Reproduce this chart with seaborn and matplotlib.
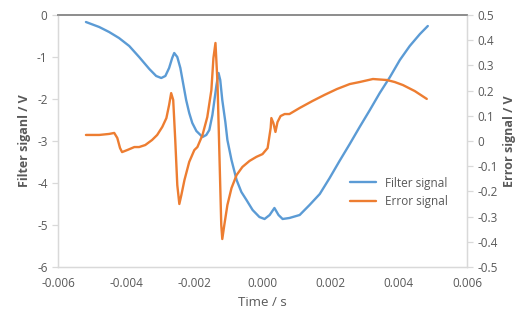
import numpy as np
import pandas as pd
import seaborn as sns
import matplotlib
matplotlib.use("Agg")
import matplotlib.pyplot as plt

# ---- data ----
filter_t = [-0.00518, -0.00479, -0.00450, -0.00421, -0.00391, -0.00362, -0.00332, -0.00312,
            -0.00297, -0.00285, -0.00274, -0.00265, -0.00259, -0.00250, -0.00241, -0.00232,
            -0.00224, -0.00215, -0.00206, -0.00194, -0.00176, -0.00165, -0.00156, -0.00147,
            -0.00141, -0.00135, -0.00129, -0.00124, -0.00118, -0.00109, -0.00103, -0.00091,
            -0.00076, -0.00062, -0.00047, -0.00029, -0.00009, 0.00006, 0.00021, 0.00035,
            0.00047, 0.00059, 0.00079, 0.00109, 0.00138, 0.00168, 0.00197, 0.00226,
            0.00256, 0.00285, 0.00315, 0.00344, 0.00374, 0.00403, 0.00432, 0.00462, 0.00485]
filter_v = [-0.167, -0.286, -0.405, -0.548, -0.738, -1.000, -1.286, -1.452,
            -1.500, -1.452, -1.262, -1.024, -0.905, -1.000, -1.262, -1.667,
            -2.024, -2.333, -2.571, -2.762, -2.905, -2.857, -2.738, -2.381,
            -2.024, -1.667, -1.381, -1.548, -2.024, -2.548, -2.976, -3.452,
            -3.929, -4.214, -4.405, -4.643, -4.810, -4.857, -4.762, -4.595,
            -4.762, -4.857, -4.833, -4.762, -4.524, -4.262, -3.881, -3.476,
            -3.071, -2.667, -2.262, -1.857, -1.476, -1.071, -0.738, -0.452, -0.262]

error_t = [-0.00518, -0.00479, -0.00450, -0.00435, -0.00426, -0.00418, -0.00412, -0.00397,
           -0.00376, -0.00362, -0.00344, -0.00324, -0.00309, -0.00294, -0.00282, -0.00274,
           -0.00268, -0.00262, -0.00256, -0.00250, -0.00244, -0.00238, -0.00229, -0.00215,
           -0.00200, -0.00191, -0.00176, -0.00162, -0.00150, -0.00144, -0.00138, -0.00132,
           -0.00126, -0.00121, -0.00118, -0.00112, -0.00103, -0.00091, -0.00076, -0.00059,
           -0.00038, -0.00018, 0.00000, 0.00015, 0.00024, 0.00026, 0.00032, 0.00038,
           0.00044, 0.00053, 0.00065, 0.00079, 0.00109, 0.00147, 0.00182, 0.00218,
           0.00256, 0.00285, 0.00324, 0.00365, 0.00388, 0.00412, 0.00447, 0.00482]
error_v = [0.024, 0.024, 0.028, 0.032, 0.012, -0.028, -0.044, -0.036,
           -0.024, -0.024, -0.016, 0.004, 0.024, 0.056, 0.091, 0.143,
           0.190, 0.163, 0.004, -0.175, -0.250, -0.214, -0.155, -0.083,
           -0.036, -0.024, 0.024, 0.095, 0.202, 0.329, 0.389, 0.230,
           -0.075, -0.333, -0.389, -0.333, -0.254, -0.187, -0.135, -0.103,
           -0.079, -0.063, -0.052, -0.028, 0.052, 0.091, 0.071, 0.036,
           0.075, 0.099, 0.107, 0.107, 0.131, 0.159, 0.183, 0.206,
           0.226, 0.234, 0.246, 0.242, 0.234, 0.222, 0.198, 0.167]

x_ticks = [-0.006, -0.004, -0.002, 0.000, 0.002, 0.004, 0.006]
left_ticks = [0, -1, -2, -3, -4, -5, -6]
right_ticks = [0.5, 0.4, 0.3, 0.2, 0.1, 0, -0.1, -0.2, -0.3, -0.4, -0.5]

BLUE = "#5B9BD5"
ORANGE = "#ED7D31"
TXT = "#595959"
AX = "#D9D9D9"

sns.set_style("white")
plt.rcParams['font.family'] = ['Open Sans', 'DejaVu Sans']

fig = plt.figure(figsize=(5.28, 3.22), dpi=100)
ax = fig.add_axes([58/528, 1-267/322, (467-58)/528, (267-15)/322])
ax2 = ax.twinx()

df_f = pd.DataFrame({"t": filter_t, "v": filter_v})
df_e = pd.DataFrame({"t": error_t, "v": error_v})
sns.lineplot(data=df_f, x="t", y="v", ax=ax, color=BLUE, lw=1.7, label="Filter signal", legend=False)
sns.lineplot(data=df_e, x="t", y="v", ax=ax2, color=ORANGE, lw=1.7, label="Error signal", legend=False)

ax.set_xlim(-0.006, 0.006)
ax.set_ylim(-6, 0)
ax2.set_ylim(-0.5, 0.5)
ax.set_xticks(x_ticks)
ax.set_xticklabels([f"{v:.3f}" for v in x_ticks])
ax.set_yticks(left_ticks)
ax.set_yticklabels([str(v) for v in left_ticks])
ax2.set_yticks(right_ticks)
ax2.set_yticklabels([("%g" % v) for v in right_ticks])

fs = 8.5
for a in (ax, ax2):
    for s in a.spines.values():
        s.set_color(AX)
        s.set_linewidth(0.9)
    a.tick_params(colors=TXT, labelsize=fs, length=4, width=0.9, color=AX, direction="out")
    a.grid(False)
ax.spines['top'].set_color("#8C8C8C")
ax.spines['top'].set_linewidth(1.2)
ax2.spines['top'].set_color("#8C8C8C")
ax2.spines['top'].set_linewidth(1.2)

ax.set_xlabel("Time / s", color=TXT, fontsize=9.5)
ax.set_ylabel("Filter siganl / V", color=TXT, fontsize=9, fontweight="bold")
ax2.set_ylabel("Error signal / V", color=TXT, fontsize=9, fontweight="bold")

h1, l1 = ax.get_legend_handles_labels()
h2, l2 = ax2.get_legend_handles_labels()
leg = ax2.legend(h1 + h2, l1 + l2, loc="lower right", bbox_to_anchor=(0.98, 0.19),
                 frameon=False, fontsize=fs, labelcolor=TXT, handlelength=2.2)

fig.savefig("out.png", dpi=100)
